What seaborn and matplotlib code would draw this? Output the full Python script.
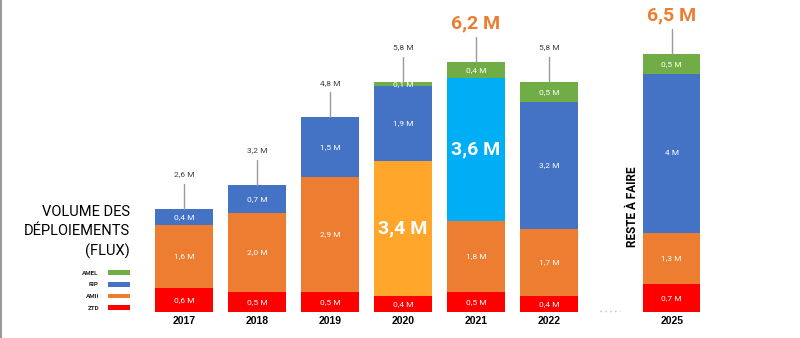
import numpy as np
import pandas as pd
import matplotlib
matplotlib.use("Agg")
import matplotlib.pyplot as plt
import seaborn as sns
from matplotlib.patches import Patch
from matplotlib.lines import Line2D

# ---------------- data ----------------
years = ["2017", "2018", "2019", "2020", "2021", "2022", "2025"]
positions = [0, 1, 2, 3, 4, 5, 6.68]
ztd = [0.6, 0.5, 0.5, 0.4, 0.5, 0.4, 0.7]
amii = [1.6, 2.0, 2.9, 3.4, 1.8, 1.7, 1.3]
rip = [0.4, 0.7, 1.5, 1.9, 3.6, 3.2, 4.0]
amel = [0.0, 0.0, 0.0, 0.1, 0.4, 0.5, 0.5]
totals = [2.6, 3.2, 4.8, 5.8, 6.2, 5.8, 6.5]
highlight_totals = ["2021", "2025"]
series_names = ["ZTD", "AMII", "RIP", "AMEL"]
series_colors = {"ZTD": "#FF0000", "AMII": "#ED7D31", "RIP": "#4472C4", "AMEL": "#70AD47"}
highlight_segments = {("2020", "AMII"): "#FFA62B", ("2021", "RIP"): "#00AEF5"}

# ---------------- style ----------------
sns.set_theme(style="white")
plt.rcParams["font.family"] = ["Roboto", "DejaVu Sans"]

fig = plt.figure(figsize=(8, 3.38), dpi=100)
ax = fig.add_axes([0, 26 / 338, 1, 312 / 338])

series_vals = {"ZTD": ztd, "AMII": amii, "RIP": rip, "AMEL": amel}
df = pd.DataFrame({"year": years, "pos": positions, **series_vals})
cum = df[series_names].cumsum(axis=1)

# draw cumulative stacks from the top layer down
for name in reversed(series_names):
    layer = pd.DataFrame({"year": years, "pos": positions, "height": cum[name]})
    pal = {y: highlight_segments.get((y, name), series_colors[name]) for y in years}
    sns.barplot(data=layer, x="pos", y="height", hue="year", palette=pal,
                native_scale=True, dodge=False, width=0.79, saturation=1,
                errorbar=None, legend=False, linewidth=0, ax=ax)

# segment labels
for i, y in enumerate(years):
    bottom = 0.0
    for name in series_names:
        v = series_vals[name][i]
        if v > 0:
            mid = bottom + v / 2
            txt = (f"{v:.1f}".replace(".", ",") if v != int(v) or v < 3.5 else f"{int(v)}") + " M"
            if (y, name) in highlight_segments:
                ax.text(positions[i], mid, txt, ha="center", va="center", color="white",
                        fontsize=14, fontweight="bold")
            else:
                ax.text(positions[i], mid, txt, ha="center", va="center", color="white",
                        fontsize=6)
        bottom += v

# totals with leader lines
stack_top = cum["AMEL"].values
for i, y in enumerate(years):
    top = stack_top[i]
    ax.plot([positions[i], positions[i]], [top, top + 0.63], color="#999999", lw=1)
    lab = f"{totals[i]:.1f}".replace(".", ",") + " M"
    if y in highlight_totals:
        ax.text(positions[i], top + 0.63 + 0.34, lab, ha="center", va="center",
                color="#ED7D31", fontsize=14, fontweight="bold")
    else:
        ax.text(positions[i], top + 0.63 + 0.24, lab, ha="center", va="center",
                color="#404040", fontsize=6)

# dotted gap marker between 2022 and 2025
ax.plot([5.70, 5.97], [0.02, 0.02], color="#BBBBBB", lw=1, linestyle=(0, (1, 2.5)),
        clip_on=False)

ax.set_xlim(-184 / 73, (800 - 184) / 73)
ax.set_ylim(0, 312 / 39.7)
ax.set_xticks(positions)
ax.set_xticklabels(years, fontsize=7.5, fontweight="bold", color="black",
                   family=["Liberation Sans", "DejaVu Sans"])
ax.tick_params(axis="x", length=0, pad=3)
ax.set_yticks([])
ax.set_xlabel("")
ax.set_ylabel("")
for s in ax.spines.values():
    s.set_visible(False)

# vertical "RESTE À FAIRE"
fig.text(632 / 800, 1 - 207 / 338, "RESTE À FAIRE", rotation=90, ha="center",
         va="center", fontsize=8.5, fontweight="bold", color="black")

# title block
for txt, yy in [("VOLUME DES", 211.5), ("DÉPLOIEMENTS", 231), ("(FLUX)", 251.5)]:
    fig.text(130 / 800, 1 - yy / 338, txt, ha="right", va="center", fontsize=10.5,
             color="black", fontweight="normal")

# legend
handles = [Patch(facecolor=series_colors[n], edgecolor="none") for n in reversed(series_names)]
leg = fig.legend(handles, list(reversed(series_names)), loc="upper right",
                 bbox_to_anchor=(129.5 / 800, 1 - 270 / 338), frameon=False,
                 markerfirst=False, handlelength=3.4, handleheight=0.8,
                 handletextpad=1.5, labelspacing=1.0, borderpad=0, borderaxespad=0,
                 prop={"weight": "bold", "size": 4.5})

# left grey border
fig.add_artist(Line2D([0.0015, 0.0015], [0, 1], transform=fig.transFigure,
                      color="#9A9A9A", lw=1.5))

fig.savefig("out.png", dpi=100)
